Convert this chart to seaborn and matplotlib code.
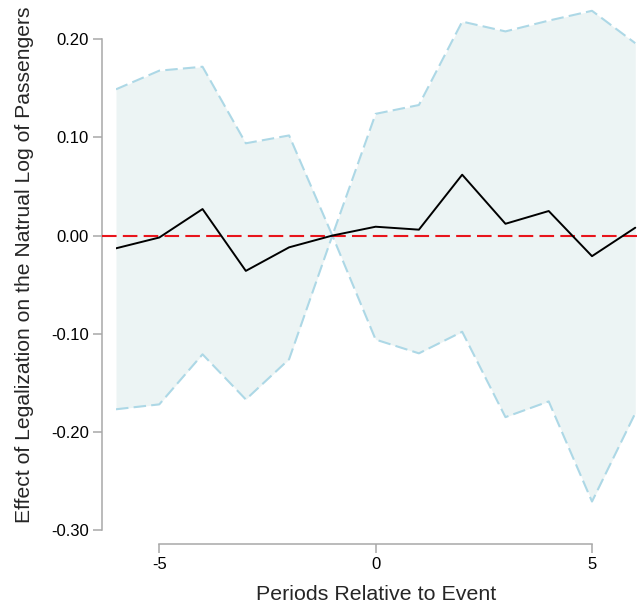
import matplotlib
matplotlib.use("Agg")
import matplotlib.pyplot as plt
import seaborn as sns

periods = [-6, -5, -4, -3, -2, -1, 0, 1, 2, 3, 4, 5, 6]
coef = [-0.013, -0.002, 0.027, -0.036, -0.012, 0.0, 0.009, 0.006, 0.062, 0.012, 0.025, -0.021, 0.008]
ci_upper = [0.149, 0.168, 0.172, 0.094, 0.102, 0.0, 0.124, 0.133, 0.218, 0.208, 0.219, 0.229, 0.196]
ci_lower = [-0.177, -0.172, -0.121, -0.167, -0.126, 0.0, -0.106, -0.120, -0.098, -0.185, -0.169, -0.271, -0.181]
x_ticks = [-5, 0, 5]
y_ticks = [-0.30, -0.20, -0.10, 0.00, 0.10, 0.20]

sns.set_style("white")
plt.rcParams['font.family'] = ['Liberation Sans', 'DejaVu Sans']
plt.rcParams['axes.unicode_minus'] = False

fig = plt.figure(figsize=(6.37, 6.07), dpi=100)
ax = fig.add_axes([116 / 637, 77 / 607, 521 / 637, 530 / 607])

# confidence band
ax.fill_between(periods, ci_lower, ci_upper, color='#ECF4F4', linewidth=0, zorder=1)
sns.lineplot(x=periods, y=ci_upper, ax=ax, color='#ADD8E6', linewidth=1.5,
             linestyle=(0, (6, 2.5)), zorder=2)
sns.lineplot(x=periods, y=ci_lower, ax=ax, color='#ADD8E6', linewidth=1.5,
             linestyle=(0, (6, 2.5)), zorder=2)

ax.axhline(0, xmin=-14 / 521, xmax=1, color='#E8141B', linewidth=1.5,
           linestyle=(0, (7, 3)), clip_on=False, zorder=3)

sns.lineplot(x=periods, y=coef, ax=ax, color='black', linewidth=1.4, zorder=4)

ax.set_xlim(-6, 6.04)
ax.set_ylim(-0.30, 0.24)

sns.despine(ax=ax, top=True, right=True)
for side in ['left', 'bottom']:
    ax.spines[side].set_position(('outward', 10))
    ax.spines[side].set_color('#A8A8A8')
    ax.spines[side].set_linewidth(1.1)
ax.spines['left'].set_bounds(-0.30, 0.20)
ax.spines['bottom'].set_bounds(-5, 5)

ax.set_xticks(x_ticks)
ax.set_xticklabels([str(t) for t in x_ticks])
ax.set_yticks(y_ticks)
ax.set_yticklabels([f"{t:.2f}" for t in y_ticks])
ax.tick_params(axis='both', length=6.5, width=1.1, color='#A8A8A8',
               labelsize=12, labelcolor='black', pad=3, direction='out')
ax.xaxis.set_ticks_position('bottom')
ax.yaxis.set_ticks_position('left')

ax.set_xlabel('Periods Relative to Event', fontsize=15.4, labelpad=9)
ax.set_ylabel('Effect of Legalization on the Natrual Log of Passengers', fontsize=15.2, labelpad=12)

fig.savefig('out.png', dpi=100)
